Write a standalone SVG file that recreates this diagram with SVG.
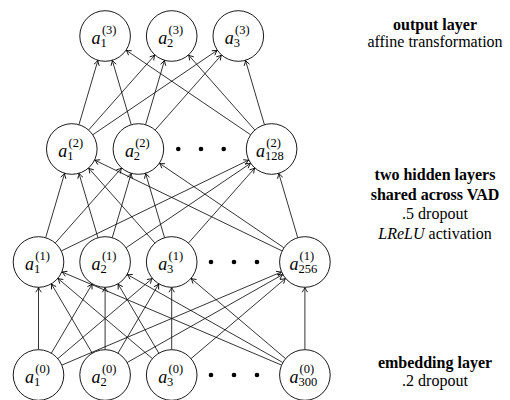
<svg xmlns="http://www.w3.org/2000/svg" width="510" height="400" viewBox="0 0 510 400" font-family="'Liberation Serif', 'Times New Roman', Tinos, 'DejaVu Serif', serif">
<defs>
<style>
.node circle{fill:#fff;stroke:#000;stroke-width:0.9}
.lbl{font-family:'Liberation Serif','Times New Roman',Tinos,'DejaVu Serif',serif;fill:#000}
.a{font-style:italic;font-size:18px}
.s{font-size:12.5px}
.edges line{stroke:#000;stroke-width:0.8;marker-end:url(#arr)}
.dot{fill:#000}
.t{font-family:'Liberation Serif','Times New Roman',Tinos,'DejaVu Serif',serif;font-size:16px;fill:#000;text-anchor:middle}
.b{font-weight:bold}
.i{font-style:italic}
</style>
<marker id="arr" markerUnits="userSpaceOnUse" markerWidth="10" markerHeight="10" refX="0" refY="0" orient="auto" overflow="visible">
<path d="M-4.4,-2.5 Q-1.4,-0.5 0,0 Q-1.4,0.5 -4.4,2.5" fill="none" stroke="#000" stroke-width="0.85" stroke-linecap="round"/>
</marker>
</defs>
<rect width="510" height="400" fill="#fff"/>

<g id="connectors" class="edges">
<line x1="38.5" y1="349.5" x2="38.5" y2="287.5"/>
<line x1="51.45" y1="353.03" x2="92.15" y2="283.97"/>
<line x1="57.95" y1="358.5" x2="152.25" y2="278.5"/>
<line x1="61.98" y1="365.04" x2="281.42" y2="271.96"/>
<line x1="92.15" y1="353.03" x2="51.45" y2="283.97"/>
<line x1="105.1" y1="349.5" x2="105.1" y2="287.5"/>
<line x1="118.05" y1="353.03" x2="158.75" y2="283.97"/>
<line x1="127.3" y1="362.45" x2="282.7" y2="274.55"/>
<line x1="152.25" y1="358.5" x2="57.95" y2="278.5"/>
<line x1="158.75" y1="353.03" x2="118.05" y2="283.97"/>
<line x1="171.7" y1="349.5" x2="171.7" y2="287.5"/>
<line x1="191.15" y1="358.5" x2="285.45" y2="278.5"/>
<line x1="281.42" y1="365.04" x2="61.98" y2="271.96"/>
<line x1="282.7" y1="362.45" x2="127.3" y2="274.55"/>
<line x1="285.45" y1="358.5" x2="191.15" y2="278.5"/>
<line x1="304.9" y1="349.5" x2="304.9" y2="287.5"/>

<line x1="45.71" y1="237.54" x2="64.59" y2="173.46"/>
<line x1="55.39" y1="242.9" x2="121.51" y2="168.1"/>
<line x1="61.45" y1="250.88" x2="248.65" y2="160.12"/>
<line x1="97.89" y1="237.54" x2="79.01" y2="173.46"/>
<line x1="112.31" y1="237.54" x2="131.19" y2="173.46"/>
<line x1="126.2" y1="247.68" x2="250.5" y2="163.32"/>
<line x1="154.81" y1="242.9" x2="88.69" y2="168.1"/>
<line x1="164.49" y1="237.54" x2="145.61" y2="173.46"/>
<line x1="188.59" y1="242.9" x2="254.71" y2="168.1"/>
<line x1="281.95" y1="250.88" x2="94.75" y2="160.12"/>
<line x1="283.8" y1="247.68" x2="159.5" y2="163.32"/>
<line x1="297.69" y1="237.54" x2="278.81" y2="173.46"/>

<line x1="79.01" y1="124.54" x2="97.89" y2="60.46"/>
<line x1="88.69" y1="129.9" x2="154.81" y2="55.1"/>
<line x1="92.9" y1="134.68" x2="217.2" y2="50.32"/>
<line x1="131.19" y1="124.54" x2="112.31" y2="60.46"/>
<line x1="145.61" y1="124.54" x2="164.49" y2="60.46"/>
<line x1="155.29" y1="129.9" x2="221.41" y2="55.1"/>
<line x1="250.5" y1="134.68" x2="126.2" y2="50.32"/>
<line x1="254.71" y1="129.9" x2="188.59" y2="55.1"/>
<line x1="264.39" y1="124.54" x2="245.51" y2="60.46"/>
</g>

<!-- output layer -->
<g id="n3_1" class="node"><circle cx="105.1" cy="36" r="25.3"/><text class="lbl"><tspan class="a" x="91.6" y="43.5">a</tspan><tspan class="s" x="101.9" y="34">(3)</tspan><tspan class="s" x="100.5" y="46.5">1</tspan></text></g>
<g id="n3_2" class="node"><circle cx="171.7" cy="36" r="25.3"/><text class="lbl"><tspan class="a" x="158.2" y="43.5">a</tspan><tspan class="s" x="168.5" y="34">(3)</tspan><tspan class="s" x="167.1" y="46.5">2</tspan></text></g>
<g id="n3_3" class="node"><circle cx="238.3" cy="36" r="25.3"/><text class="lbl"><tspan class="a" x="224.8" y="43.5">a</tspan><tspan class="s" x="235.1" y="34">(3)</tspan><tspan class="s" x="233.7" y="46.5">3</tspan></text></g>

<!-- hidden layer 2 -->
<g id="n2_1" class="node"><circle cx="71.8" cy="149" r="25.3"/><text class="lbl"><tspan class="a" x="58.3" y="156.5">a</tspan><tspan class="s" x="68.6" y="147">(2)</tspan><tspan class="s" x="67.2" y="159.5">1</tspan></text></g>
<g id="n2_2" class="node"><circle cx="138.4" cy="149" r="25.3"/><text class="lbl"><tspan class="a" x="124.9" y="156.5">a</tspan><tspan class="s" x="135.2" y="147">(2)</tspan><tspan class="s" x="133.8" y="159.5">2</tspan></text></g>
<g id="n2_128" class="node"><circle cx="271.6" cy="149" r="25.3"/><text class="lbl"><tspan class="a" x="256.1" y="156.5">a</tspan><tspan class="s" x="266.3" y="147">(2)</tspan><tspan class="s" x="265.1" y="159.5">128</tspan></text></g>
<g id="dots2"><circle class="dot" cx="178.3" cy="149" r="2.3"/><circle class="dot" cx="201" cy="149" r="2.3"/><circle class="dot" cx="223.7" cy="149" r="2.3"/></g>

<!-- hidden layer 1 -->
<g id="n1_1" class="node"><circle cx="38.5" cy="262" r="25.3"/><text class="lbl"><tspan class="a" x="25" y="269.5">a</tspan><tspan class="s" x="35.3" y="260">(1)</tspan><tspan class="s" x="33.9" y="272.5">1</tspan></text></g>
<g id="n1_2" class="node"><circle cx="105.1" cy="262" r="25.3"/><text class="lbl"><tspan class="a" x="91.6" y="269.5">a</tspan><tspan class="s" x="101.9" y="260">(1)</tspan><tspan class="s" x="100.5" y="272.5">2</tspan></text></g>
<g id="n1_3" class="node"><circle cx="171.7" cy="262" r="25.3"/><text class="lbl"><tspan class="a" x="158.2" y="269.5">a</tspan><tspan class="s" x="168.5" y="260">(1)</tspan><tspan class="s" x="167.1" y="272.5">3</tspan></text></g>
<g id="n1_256" class="node"><circle cx="304.9" cy="262" r="25.3"/><text class="lbl"><tspan class="a" x="289.4" y="269.5">a</tspan><tspan class="s" x="299.6" y="260">(1)</tspan><tspan class="s" x="298.4" y="272.5">256</tspan></text></g>
<g id="dots1"><circle class="dot" cx="211" cy="262" r="2.3"/><circle class="dot" cx="234" cy="262" r="2.3"/><circle class="dot" cx="257" cy="262" r="2.3"/></g>

<!-- embedding layer -->
<g id="n0_1" class="node"><circle cx="38.5" cy="375" r="25.3"/><text class="lbl"><tspan class="a" x="25" y="382.5">a</tspan><tspan class="s" x="35.3" y="373">(0)</tspan><tspan class="s" x="33.9" y="385.5">1</tspan></text></g>
<g id="n0_2" class="node"><circle cx="105.1" cy="375" r="25.3"/><text class="lbl"><tspan class="a" x="91.6" y="382.5">a</tspan><tspan class="s" x="101.9" y="373">(0)</tspan><tspan class="s" x="100.5" y="385.5">2</tspan></text></g>
<g id="n0_3" class="node"><circle cx="171.7" cy="375" r="25.3"/><text class="lbl"><tspan class="a" x="158.2" y="382.5">a</tspan><tspan class="s" x="168.5" y="373">(0)</tspan><tspan class="s" x="167.1" y="385.5">3</tspan></text></g>
<g id="n0_300" class="node"><circle cx="304.9" cy="375" r="25.3"/><text class="lbl"><tspan class="a" x="289.4" y="382.5">a</tspan><tspan class="s" x="299.6" y="373">(0)</tspan><tspan class="s" x="298.4" y="385.5">300</tspan></text></g>
<g id="dots0"><circle class="dot" cx="211" cy="375" r="2.3"/><circle class="dot" cx="234" cy="375" r="2.3"/><circle class="dot" cx="257" cy="375" r="2.3"/></g>

<g id="layer-labels">
<text class="t b" x="435" y="29.5">output layer</text>
<text class="t" x="435" y="47">affine transformation</text>
<text class="t b" x="435" y="180">two hidden layers</text>
<text class="t b" x="435" y="199.5">shared across VAD</text>
<text class="t" x="435" y="219">.5 dropout</text>
<text class="t" x="435" y="238.5"><tspan class="i">LReLU</tspan> activation</text>
<text class="t b" x="435" y="367.5">embedding layer</text>
<text class="t" x="435" y="386">.2 dropout</text>
</g>
</svg>
